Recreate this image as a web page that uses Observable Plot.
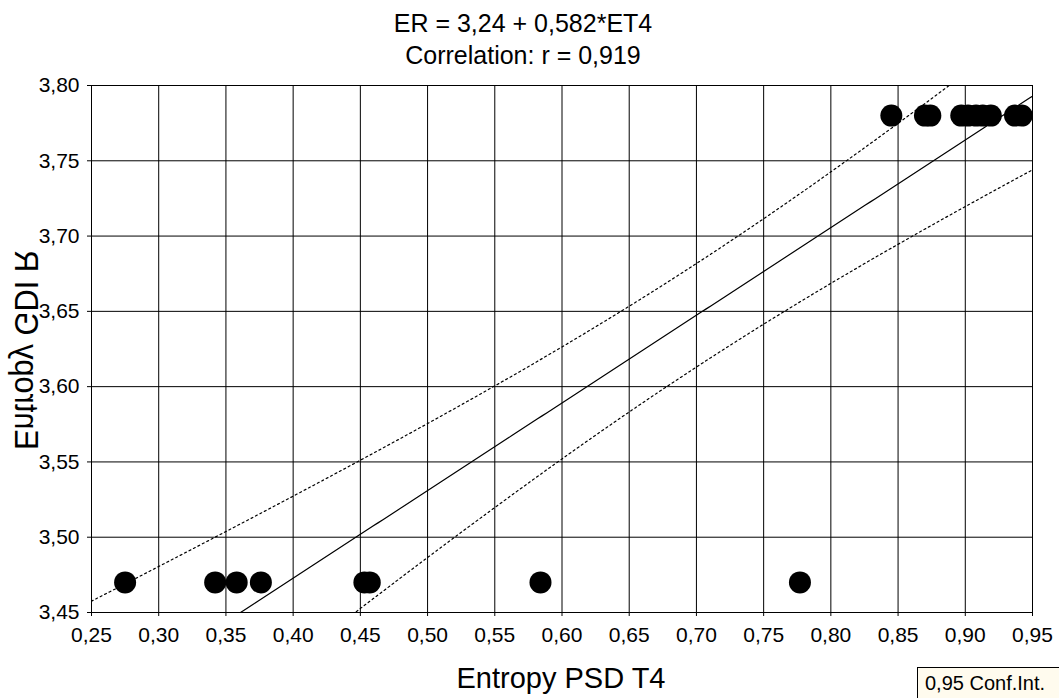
<!DOCTYPE html>
<html><head><meta charset="utf-8">
<script src="https://cdn.jsdelivr.net/npm/d3@7"></script>
<script src="https://cdn.jsdelivr.net/npm/@observablehq/plot@0.6"></script>
<style>
body{margin:0;background:#fff;}
#chart{position:relative;width:1059px;height:698px;overflow:hidden;}
</style>
</head><body><div id="chart"></div>
<script>
// Data
const entropyPSD_T4 = [0.275, 0.342, 0.358, 0.376, 0.453, 0.457, 0.584, 0.777,
                       0.845, 0.870, 0.874, 0.897, 0.902, 0.908, 0.913, 0.919, 0.937, 0.942];
const entropyGDI_R  = [3.47, 3.47, 3.47, 3.47, 3.47, 3.47, 3.47, 3.47,
                       3.78, 3.78, 3.78, 3.78, 3.78, 3.78, 3.78, 3.78, 3.78, 3.78];
const xTicks = [0.25, 0.30, 0.35, 0.40, 0.45, 0.50, 0.55, 0.60, 0.65, 0.70, 0.75, 0.80, 0.85, 0.90, 0.95];
const yTicks = [3.45, 3.50, 3.55, 3.60, 3.65, 3.70, 3.75, 3.80];
const titleLines = ["ER = 3,24 + 0,582*ET4", "Correlation: r = 0,919"];
const intercept = 3.24;
const slope = 0.582;
const confLevelT = 2.1199; // t(0.975, df = 16)
const xLabel = "Entropy PSD T4";
const yLabel = "Entropy GDI R";
const legendLabel = "0,95 Conf.Int.";

const data = entropyPSD_T4.map((x, i) => ({x, y: entropyGDI_R[i]}));
const n = data.length;
const xMean = d3.mean(entropyPSD_T4);
const sxx = d3.sum(entropyPSD_T4, x => (x - xMean) ** 2);
const sse = d3.sum(data, d => (d.y - (intercept + slope * d.x)) ** 2);
const s = Math.sqrt(sse / (n - 2));
const xDomain = [xTicks[0], xTicks[xTicks.length - 1]];
const curve = d3.range(0, 201).map(i => {
  const x = xDomain[0] - 0.02 + (xDomain[1] - xDomain[0] + 0.04) * i / 200;
  const yhat = intercept + slope * x;
  const hw = confLevelT * s * Math.sqrt(1 / n + (x - xMean) ** 2 / sxx);
  return {x, yhat, lo: yhat - hw, hi: yhat + hw};
});
const fmt = d => d.toFixed(2).replace(".", ",");

const plot = Plot.plot({
  width: 1059, height: 698,
  marginLeft: 91, marginRight: 27, marginTop: 85, marginBottom: 86,
  style: {fontFamily: "'Liberation Sans', Arial, sans-serif", fontSize: "21px", background: "white", color: "black"},
  x: {domain: xDomain},
  y: {domain: [yTicks[0], yTicks[yTicks.length - 1]]},
  marks: [
    Plot.gridX(xTicks, {stroke: "black", strokeOpacity: 1, strokeWidth: 1}),
    Plot.gridY(yTicks, {stroke: "black", strokeOpacity: 1, strokeWidth: 1}),
    Plot.frame({stroke: "black", strokeWidth: 1}),
    Plot.line(curve, {x: "x", y: "yhat", stroke: "black", strokeWidth: 1.2, clip: true}),
    Plot.line(curve, {x: "x", y: "lo", stroke: "black", strokeWidth: 1.2, strokeDasharray: "2,3", clip: true}),
    Plot.line(curve, {x: "x", y: "hi", stroke: "black", strokeWidth: 1.2, strokeDasharray: "2,3", clip: true}),
    Plot.dot(data, {x: "x", y: "y", r: 11, fill: "black", stroke: "none"}),
    Plot.axisX(xTicks, {tickSize: 4, tickPadding: 11, tickFormat: fmt, label: null, fontSize: 21}),
    Plot.axisY(yTicks, {tickSize: 4, tickPadding: 8, tickFormat: fmt, label: null, fontSize: 21})
  ]
});
document.getElementById("chart").appendChild(plot);

const svg = d3.select(plot);
const font = "'Liberation Sans', Arial, sans-serif";
svg.append("text").attr("x", 523).attr("y", 32).attr("text-anchor", "middle")
  .attr("font-family", font).attr("font-size", 25).attr("fill", "black").text(titleLines[0]);
svg.append("text").attr("x", 523).attr("y", 64).attr("text-anchor", "middle")
  .attr("font-family", font).attr("font-size", 25).attr("fill", "black").text(titleLines[1]);
svg.append("text").attr("x", 561).attr("y", 688).attr("text-anchor", "middle")
  .attr("font-family", font).attr("font-size", 29).attr("fill", "black").text(xLabel);
svg.append("text").attr("transform", "translate(15,350) rotate(-90) scale(1,-1)")
  .attr("text-anchor", "middle").attr("font-family", font).attr("font-size", 33)
  .attr("textLength", 200).attr("lengthAdjust", "spacingAndGlyphs")
  .attr("fill", "black").text(yLabel);
svg.append("rect").attr("x", 917.5).attr("y", 667.5).attr("width", 160).attr("height", 40)
  .attr("fill", "#fffbee").attr("stroke", "black").attr("stroke-width", 1);
svg.append("text").attr("x", 925).attr("y", 690).attr("text-anchor", "start")
  .attr("font-family", font).attr("font-size", 20).attr("fill", "black").text(legendLabel);
</script>
</body></html>
